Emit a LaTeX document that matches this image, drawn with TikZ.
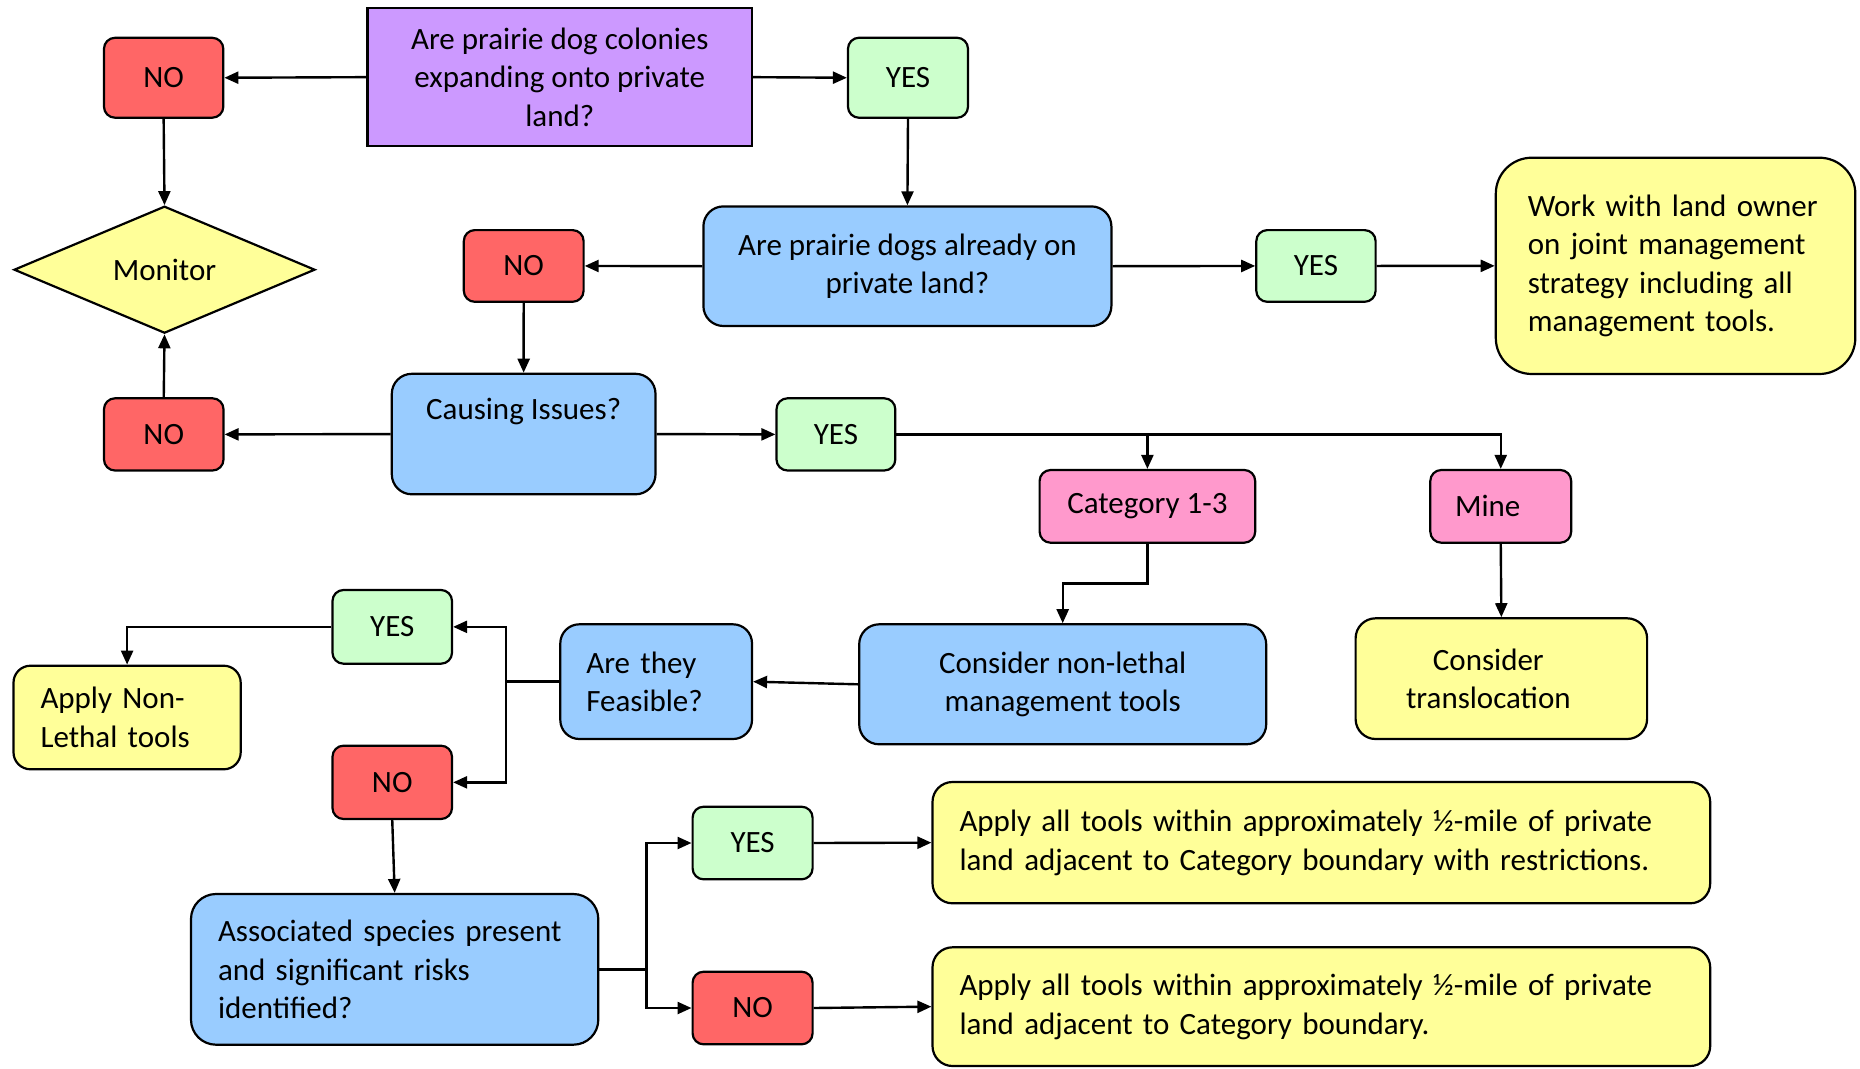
\documentclass[tikz,border=0pt]{standalone}
\usepackage{fontspec}
\setmainfont{Carlito}
\usetikzlibrary{arrows.meta,shapes.geometric,calc}

\definecolor{qpurple}{HTML}{CC99FF}
\definecolor{nored}{HTML}{FF6666}
\definecolor{yesgreen}{HTML}{CCFFCC}
\definecolor{actyellow}{HTML}{FFFF99}
\definecolor{askblue}{HTML}{99CCFF}
\definecolor{catpink}{HTML}{FF99CC}

\tikzset{
  base/.style={draw=black, line width=2.2pt, inner sep=0pt, font=\fontsize{31}{38.5}\selectfont, align=center},
  sz/.style 2 args={minimum width=#1pt, minimum height=#2pt},
  purplebox/.style={base, fill=qpurple},
  nobox/.style={base, fill=nored, rounded corners=11pt},
  yesbox/.style={base, fill=yesgreen, rounded corners=11pt},
  pinkbox/.style={base, fill=catpink, rounded corners=11pt},
  bluebox/.style={base, fill=askblue, rounded corners=#1pt},
  yellowbox/.style={base, fill=actyellow, rounded corners=#1pt},
  lefttext/.style 2 args={align=left, inner xsep=#1pt, text width=#2pt},
  arr/.style={line width=2.4pt, -{Triangle[length=14pt,width=12pt]}},
  link/.style={line width=2.4pt},
}

\begin{document}
\begin{tikzpicture}[x=1pt, y=-1pt]
\useasboundingbox (0,0) rectangle (1860,1068);

% first question and its answers
\node[purplebox, sz={384.5}{137.7}] (q1) at (559.75,77.15) {Are prairie dog colonies\\expanding onto private\\land?};
\node[nobox, sz={119.3}{79.9}] (no1) at (163.65,77.75) {NO};
\node[yesbox, sz={120}{80}] (yes1) at (908,77.75) {YES};
\node[base, fill=actyellow, shape=diamond, shape aspect=2.37, sz={301}{127}] (mon) at (164.5,269.7) {Monitor};

% second question
\node[bluebox=20, sz={408}{119.6}] (q2) at (907.4,266.2) {Are prairie dogs already on\\private land?};
\node[nobox, sz={119.8}{71.7}] (no2) at (523.7,265.95) {NO};
\node[yesbox, sz={119.3}{71.7}] (yes2) at (1315.95,265.95) {YES};
\node[yellowbox=36, sz={359.5}{216.3}, lefttext={32}{295.5}] (work) at (1675.55,265.85) {Work with land owner\\on joint management\\strategy including all\\management tools.};

% causing issues
\node[bluebox=20, sz={263.7}{120.5}] (ci) at (523.65,434.05) {Causing Issues?\\\strut};
\node[nobox, sz={119.5}{72.2}] (no3) at (163.75,434.4) {NO};
\node[yesbox, sz={118.8}{72.2}] (yes3) at (835.9,434.4) {YES};
\node[pinkbox, sz={215.6}{72.7}] (cat) at (1147.4,506.35) {Category 1-3};
\node[pinkbox, sz={140.9}{72.7}] (mine) at (1500.75,506.35) {Mine\kern26pt};
\node[bluebox=20, sz={407}{120}] (cnl) at (1062.7,684.3) {Consider non-lethal\\management tools};
\node[yellowbox=20, sz={291.5}{120.7}] (tl) at (1501.35,678.65) {Consider\kern26pt\\translocation\kern26pt};

% feasibility
\node[bluebox=19, sz={191.7}{114.7}, lefttext={26}{139.7}] (feas) at (656.15,681.65) {Are they\\Feasible?};
\node[yesbox, sz={119.5}{73.7}] (yes4) at (392.25,626.85) {YES};
\node[yellowbox=17, sz={227.2}{103.6}, lefttext={27}{173.2}] (anl) at (127.1,717.5) {Apply Non-\\Lethal tools};
\node[nobox, sz={119.5}{73.3}] (no4) at (392.25,782.35) {NO};

% associated species
\node[bluebox=25, sz={407.3}{150.7}, lefttext={27}{353.3}] (asp) at (394.65,969.35) {Associated species present\\and significant risks\\identified?};
\node[yesbox, sz={120}{72.6}] (yes5) at (752.6,843) {YES};
\node[nobox, sz={120}{72.6}] (no5) at (752.6,1008) {NO};
\node[yellowbox=20, sz={777.7}{121.3}, lefttext={27}{723.7}] (ap1) at (1321.35,842.65) {Apply all tools within approximately ½-mile of private\\land adjacent to Category boundary with restrictions.};
\node[yellowbox=20, sz={777.7}{118.7}, lefttext={27}{723.7}] (ap2) at (1321.35,1006.65) {Apply all tools within approximately ½-mile of private\\land adjacent to Category boundary.};

% connectors
\draw[arr] (q1.west) -- (no1.east);
\draw[arr] (q1.east) -- (yes1.west);
\draw[arr] (no1.south) -- (mon.north);
\draw[arr] (yes1.south) -- (q2.north);
\draw[arr] (q2.west) -- (no2.east);
\draw[arr] (q2.east) -- (yes2.west);
\draw[arr] (yes2.east) -- (work.west);
\draw[arr] (no2.south) -- (ci.north);
\draw[arr] (ci.west) -- (no3.east);
\draw[arr] (no3.north) -- (mon.south);
\draw[arr] (ci.east) -- (yes3.west);
\draw[arr] (yes3.east) -| (mine.north);
\draw[arr] (yes3.east -| cat.north) -- (cat.north);
\coordinate (catbend) at ($(cat.south)!0.5!(cnl.north)$);
\draw[arr] (cat.south) |- (catbend) -| (cnl.north);
\draw[arr] (mine.south) -- (tl.north);
\draw[arr] (cnl.west) -- (feas.east);
\coordinate (fj) at ($(feas.west)+(-53,0)$);
\draw[link] (feas.west) -- (fj);
\draw[arr] (fj) |- (yes4.east);
\draw[arr] (fj) |- (no4.east);
\draw[arr] (yes4.west) -| (anl.north);
\draw[arr] (no4.south) -- (asp.north);
\coordinate (aj) at ($(asp.east)+(47,0)$);
\draw[link] (asp.east) -- (aj);
\draw[arr] (aj) |- (yes5.west);
\draw[arr] (aj) |- (no5.west);
\draw[arr] (yes5.east) -- (ap1.west);
\draw[arr] (no5.east) -- (ap2.west);
\end{tikzpicture}
\end{document}
